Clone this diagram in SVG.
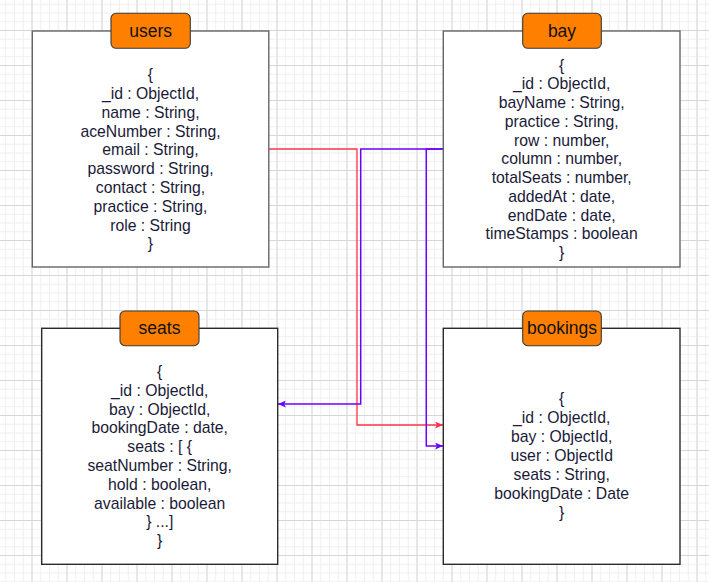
<svg xmlns="http://www.w3.org/2000/svg" width="709" height="582" viewBox="0 0 709 582">
<style>
.box{fill:#ffffff;stroke:#666666;stroke-width:1.4}
.box2{fill:#ffffff;stroke:#2b2b2b;stroke-width:1.4}
.tab{fill:#ff8000;stroke:#3a3a3a;stroke-width:1.1}
.title{font-family:"Liberation Sans",Arial,sans-serif;font-size:17.5px;fill:#111111;text-anchor:middle}
.body{font-family:"Liberation Sans",Arial,sans-serif;font-size:15.75px;fill:#1a1a38;text-anchor:middle}
.red{fill:none;stroke:#ff3348;stroke-width:1.3}
.pur{fill:none;stroke:#6a00ff;stroke-width:1.5}
</style>
<defs>
<pattern id="minor" x="31.5" y="30" width="8.75" height="8.75" patternUnits="userSpaceOnUse">
<path d="M0.5,0 V8.75 M0,0.5 H8.75" stroke="#efefef" stroke-width="1" fill="none"/>
</pattern>
<pattern id="major" x="31.5" y="30" width="35" height="35" patternUnits="userSpaceOnUse">
<path d="M0.5,0 V35 M0,0.5 H35" stroke="#d6d6d6" stroke-width="1" fill="none"/>
</pattern>
<marker id="arR" markerWidth="8" markerHeight="7" refX="8" refY="3.5" orient="auto" markerUnits="userSpaceOnUse">
<path d="M0,0 L8,3.5 L0,7 L2,3.5 z" fill="#ff3348"/>
</marker>
<marker id="arP" markerWidth="8" markerHeight="7" refX="8" refY="3.5" orient="auto" markerUnits="userSpaceOnUse">
<path d="M0,0 L8,3.5 L0,7 L2,3.5 z" fill="#6a00ff"/>
</marker>
</defs>
<rect x="0" y="0" width="709" height="582" fill="#ffffff"/>
<rect x="0" y="0" width="709" height="582" fill="url(#minor)"/>
<rect x="0" y="0" width="709" height="582" fill="url(#major)"/>

<g id="connectors">
<path class="red" d="M269,149 H357 V425 H443" marker-end="url(#arR)"/>
<path class="pur" d="M443,149 H360.7 V404 H278" marker-end="url(#arP)"/>
<path class="pur" d="M443,149 H426.3 V446 H443" marker-end="url(#arP)"/>
</g>

<g id="users">
<rect class="box" x="32.3" y="31" width="236.5" height="236"/>
<rect class="tab" x="111" y="13.3" width="79.3" height="35" rx="5"/>
<text class="title" x="150.6" y="37.3">users</text>
<text class="body" x="150.5" y="80.2">{</text>
<text class="body" x="150.5" y="99">_id : ObjectId,</text>
<text class="body" x="150.5" y="117.8">name : String,</text>
<text class="body" x="150.5" y="136.6">aceNumber : String,</text>
<text class="body" x="150.5" y="155.4">email : String,</text>
<text class="body" x="150.5" y="174.2">password : String,</text>
<text class="body" x="150.5" y="193">contact : String,</text>
<text class="body" x="150.5" y="211.8">practice : String,</text>
<text class="body" x="150.5" y="230.6">role : String</text>
<text class="body" x="150.5" y="249.4">}</text>
</g>

<g id="bay">
<rect class="box" x="443.3" y="31" width="236.7" height="236"/>
<rect class="tab" x="522.7" y="13.3" width="78.6" height="35" rx="5"/>
<text class="title" x="562" y="37.3">bay</text>
<text class="body" x="561.7" y="70.6">{</text>
<text class="body" x="561.7" y="89.3">_id : ObjectId,</text>
<text class="body" x="561.7" y="108">bayName : String,</text>
<text class="body" x="561.7" y="126.8">practice : String,</text>
<text class="body" x="561.7" y="145.5">row : number,</text>
<text class="body" x="561.7" y="164.3">column : number,</text>
<text class="body" x="561.7" y="183">totalSeats : number,</text>
<text class="body" x="561.7" y="201.8">addedAt : date,</text>
<text class="body" x="561.7" y="220.5">endDate : date,</text>
<text class="body" x="561.7" y="239.3">timeStamps : boolean</text>
<text class="body" x="561.7" y="258">}</text>
</g>

<g id="seats">
<rect class="box2" x="41.7" y="328.3" width="236" height="236"/>
<rect class="tab" x="120" y="311" width="79" height="34.7" rx="5"/>
<text class="title" x="159.5" y="334.3">seats</text>
<text class="body" x="159.7" y="376.9">{</text>
<text class="body" x="159.7" y="395.7">_id : ObjectId,</text>
<text class="body" x="159.7" y="414.5">bay : ObjectId,</text>
<text class="body" x="159.7" y="433.3">bookingDate : date,</text>
<text class="body" x="159.7" y="452.1">seats : [ {</text>
<text class="body" x="159.7" y="470.9">seatNumber : String,</text>
<text class="body" x="159.7" y="489.7">hold : boolean,</text>
<text class="body" x="159.7" y="508.5">available : boolean</text>
<text class="body" x="159.7" y="527.3">} ...]</text>
<text class="body" x="159.7" y="546.1">}</text>
</g>

<g id="bookings">
<rect class="box2" x="443.3" y="328.3" width="236.7" height="236"/>
<rect class="tab" x="522.7" y="311" width="78.6" height="34.7" rx="5"/>
<text class="title" x="562" y="334.3">bookings</text>
<text class="body" x="561.7" y="404.4">{</text>
<text class="body" x="561.7" y="423.3">_id : ObjectId,</text>
<text class="body" x="561.7" y="442.2">bay : ObjectId,</text>
<text class="body" x="561.7" y="461.1">user : ObjectId</text>
<text class="body" x="561.7" y="480">seats : String,</text>
<text class="body" x="561.7" y="498.9">bookingDate : Date</text>
<text class="body" x="561.7" y="517.8">}</text>
</g>
</svg>
